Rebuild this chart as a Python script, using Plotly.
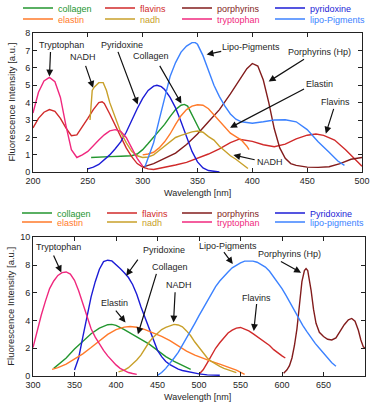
import plotly.graph_objects as go

# ---------------- data: top panel (excitation) ----------------
ex_collagen_wl = [253, 260, 270, 280, 290, 295, 300, 305, 310, 315, 320, 325, 330, 335, 338, 341, 345, 350, 353]
ex_collagen = [0.85, 0.88, 0.9, 0.92, 0.95, 1.05, 1.3, 1.65, 2.0, 2.35, 2.75, 3.2, 3.6, 3.85, 3.9, 3.8, 3.3, 2.6, 2.3]

ex_flavins_wl = [200, 205, 210, 215, 220, 225, 230, 235, 240, 245, 250, 255, 260, 263, 265, 270, 275, 280, 285, 290,
                 295, 300, 305, 310, 320, 330, 340, 350, 360, 370, 380, 388, 395, 400, 410, 420, 430, 440, 450, 458,
                 465, 475, 485, 495, 500]
ex_flavins = [2.55, 3.1, 3.45, 3.6, 3.5, 3.1, 2.55, 2.1, 2.15, 2.6, 3.1, 3.6, 4.0, 4.05, 3.95, 3.35, 2.7, 2.05, 1.4, 0.9,
              0.5, 0.3, 0.2, 0.16, 0.27, 0.42, 0.57, 0.8, 1.05, 1.35, 1.7, 1.9, 1.85, 1.78, 1.58, 1.47, 1.62, 1.92, 2.13, 2.2,
              2.12, 1.85, 1.3, 0.65, 0.35]

ex_porph_wl = [300, 305, 310, 320, 330, 340, 350, 360, 370, 380, 390, 395, 400, 405, 410, 415, 420, 425, 430, 435,
               440, 450, 460, 470, 480, 490, 500]
ex_porph = [0.3, 0.4, 0.5, 0.8, 1.1, 1.6, 2.2, 2.9, 3.6, 4.5, 5.5, 5.95, 6.25, 6.1, 5.3, 4.0, 2.5, 1.4, 0.8, 0.5,
            0.4, 0.3, 0.28, 0.32, 0.5, 0.75, 0.85]

ex_pyrid_wl = [250, 255, 260, 265, 270, 275, 280, 285, 290, 295, 300, 305, 310, 313, 317, 320, 325, 330, 335, 340,
               345, 350, 355, 360, 365, 370]
ex_pyrid = [0.2, 0.3, 0.45, 0.7, 1.0, 1.35, 1.75, 2.3, 3.0, 3.65, 4.25, 4.7, 4.95, 5.0, 4.92, 4.75, 4.3, 3.7, 2.9, 2.0,
            1.2, 0.6, 0.25, 0.1, 0.04, 0.02]

ex_elastin_wl = [300, 305, 310, 315, 320, 325, 330, 335, 340, 345, 350, 355, 360, 365, 370, 375, 380, 385, 390, 395, 397]
ex_elastin = [1.0, 1.05, 1.15, 1.4, 1.75, 2.2, 2.75, 3.25, 3.6, 3.8, 3.88, 3.85, 3.65, 3.3, 2.9, 2.55, 2.25, 2.05, 1.85, 1.5, 1.3]

ex_nadh_wl = [252, 254, 256, 260, 264, 267, 270, 275, 280, 285, 290, 295, 300, 305, 310, 315, 320, 325, 330, 335,
              340, 345, 350, 355, 360, 365, 370, 375, 380, 385, 390, 396]
ex_nadh = [3.0, 4.7, 4.9, 5.15, 5.15, 4.7, 4.0, 3.1, 2.3, 1.7, 1.2, 0.95, 0.85, 0.88, 1.0, 1.25, 1.5, 1.8, 2.0, 2.12,
           2.22, 2.32, 2.37, 2.3, 2.05, 1.85, 1.5, 1.2, 0.95, 0.75, 0.5, 0.22]

ex_trp_wl = [200, 205, 210, 215, 220, 225, 230, 235, 240, 245, 250, 255, 260, 265, 270, 275, 280, 285, 290, 295, 300]
ex_trp = [3.4, 4.6, 5.25, 5.45, 5.2, 4.3, 2.7, 1.3, 0.85, 1.0, 1.2, 1.55, 1.85, 2.15, 2.38, 2.45, 2.35, 2.0, 1.4, 0.8, 0.35]

ex_lipo_wl = [302, 305, 310, 315, 320, 325, 330, 335, 340, 345, 348, 350, 355, 360, 365, 370, 375, 380, 385, 390,
              400, 410, 420, 430, 440, 450, 460, 470, 478, 484]
ex_lipo = [0.3, 0.8, 1.7, 3.0, 4.3, 5.5, 6.3, 6.9, 7.25, 7.45, 7.45, 7.35, 6.7, 5.8, 5.0, 4.35, 3.8, 3.35, 3.05, 2.9,
           2.82, 2.9, 3.0, 3.02, 2.9, 2.45, 1.75, 1.15, 0.65, 0.4]

# ---------------- data: bottom panel (emission) ----------------
em_collagen_wl = [325, 330, 340, 350, 360, 370, 380, 390, 395, 400, 410, 420, 430, 440, 450, 460, 470, 480, 490]
em_collagen = [0.55, 0.8, 1.3, 1.95, 2.5, 3.05, 3.45, 3.7, 3.72, 3.65, 3.35, 3.0, 2.65, 2.3, 1.85, 1.4, 1.05, 0.75, 0.47]

em_flavins_wl = [500, 505, 510, 515, 520, 525, 530, 535, 540, 545, 550, 555, 560, 565, 570, 575, 580, 585, 590, 595, 600, 604]
em_flavins = [0.12, 0.45, 0.95, 1.5, 2.0, 2.4, 2.75, 3.1, 3.3, 3.45, 3.5, 3.4, 3.25, 3.05, 2.85, 2.65, 2.45, 2.2, 1.9, 1.65, 1.45, 1.3]

em_porph_wl = [602, 606, 609, 612, 615, 618, 621, 624, 627, 629, 631, 633, 635, 638, 641, 645, 650, 655, 660, 665,
               670, 675, 680, 684, 688, 692, 695, 698, 700]
em_porph = [0.2, 0.45, 0.75, 1.3, 2.2, 3.4, 5.1, 6.8, 7.6, 7.75, 7.6, 7.0, 6.2, 4.8, 3.8, 3.15, 2.85, 2.65, 2.6, 2.75,
            3.2, 3.7, 4.05, 4.15, 3.95, 3.3, 2.6, 2.1, 2.0]

em_pyrid_wl = [350, 355, 360, 365, 370, 375, 380, 385, 390, 395, 400, 405, 410, 415, 420, 425, 430, 435, 440, 445,
               450, 455, 460, 465, 470, 475, 480, 490, 500, 510, 525]
em_pyrid = [0.43, 1.3, 2.8, 4.3, 5.7, 6.8, 7.7, 8.25, 8.35, 8.3, 8.05, 7.75, 7.45, 7.1, 6.6, 5.9, 5.0, 4.2, 3.3, 2.5,
            1.85, 1.4, 1.05, 0.82, 0.65, 0.5, 0.4, 0.27, 0.15, 0.08, 0.05]

em_elastin_wl = [323, 330, 340, 350, 360, 370, 380, 390, 400, 410, 417, 425, 435, 445, 455, 465, 475, 485, 495, 505,
                 515, 525, 535, 545, 555]
em_elastin = [0.48, 0.6, 0.85, 1.2, 1.6, 2.05, 2.55, 3.0, 3.35, 3.52, 3.57, 3.52, 3.35, 3.12, 2.85, 2.55, 2.15, 1.8, 1.5, 1.25,
              1.05, 0.85, 0.65, 0.42, 0.12]

em_nadh_wl = [403, 410, 415, 420, 425, 430, 435, 440, 445, 450, 455, 460, 465, 470, 475, 480, 485, 490, 495, 500,
              505, 510, 515, 520, 525, 530, 537, 545]
em_nadh = [0.3, 0.42, 0.6, 0.85, 1.15, 1.5, 1.95, 2.45, 2.8, 3.1, 3.35, 3.5, 3.62, 3.72, 3.68, 3.55, 3.25, 2.9, 2.45, 2.05,
           1.65, 1.3, 1.05, 0.85, 0.7, 0.55, 0.38, 0.24]

em_trp_wl = [300, 305, 310, 315, 320, 325, 330, 335, 340, 345, 350, 355, 360, 365, 370, 375, 380, 385, 390, 395,
             400, 405, 410, 415, 420, 425]
em_trp = [2.05, 3.3, 4.4, 5.4, 6.3, 6.85, 7.25, 7.45, 7.5, 7.35, 6.9, 6.15, 5.2, 4.25, 3.4, 2.8, 2.3, 1.85, 1.45, 1.1,
          0.8, 0.55, 0.38, 0.25, 0.18, 0.12]

em_lipo_wl = [450, 455, 460, 465, 470, 475, 480, 485, 490, 495, 500, 505, 510, 515, 520, 525, 530, 535, 540, 545,
              550, 555, 560, 565, 570, 575, 580, 585, 590, 595, 600, 605, 610, 615, 620, 625, 630, 635, 640, 645,
              650, 655, 660, 665]
em_lipo = [0.05, 0.25, 0.55, 0.9, 1.3, 1.7, 2.2, 2.7, 3.2, 3.8, 4.35, 4.9, 5.4, 6.0, 6.45, 6.85, 7.2, 7.5, 7.8, 8.0,
           8.15, 8.28, 8.3, 8.28, 8.2, 8.05, 7.85, 7.55, 7.15, 6.75, 6.3, 5.8, 5.25, 4.7, 4.15, 3.65, 3.2, 2.75, 2.35, 2.0,
           1.65, 1.3, 0.95, 0.7]

# legend names / colours (order = legend columns, row 1 then row 2)
top_names = ["collagen", "flavins", "porphyrins", "pyridoxine", "elastin", "nadh", "tryptophan", "lipo-Pigments"]
bot_names = ["collagen", "flavins", "porphyrins", "Pyridoxine", "elastin", "nadh", "tryptophan", "lipo-pigments"]
colors = ["#23962f", "#d02a2a", "#821c1c", "#1c1cd6", "#ff7a2a", "#c8a02a", "#f0287e", "#3c82ff"]

top_series = [(ex_collagen_wl, ex_collagen), (ex_flavins_wl, ex_flavins), (ex_porph_wl, ex_porph),
              (ex_pyrid_wl, ex_pyrid), (ex_elastin_wl, ex_elastin), (ex_nadh_wl, ex_nadh),
              (ex_trp_wl, ex_trp), (ex_lipo_wl, ex_lipo)]
bot_series = [(em_collagen_wl, em_collagen), (em_flavins_wl, em_flavins), (em_porph_wl, em_porph),
              (em_pyrid_wl, em_pyrid), (em_elastin_wl, em_elastin), (em_nadh_wl, em_nadh),
              (em_trp_wl, em_trp), (em_lipo_wl, em_lipo)]

# labels with arrows: (text, text_x, text_y, tail_x, tail_y, head_x, head_y)
top_labels = [
    ("Tryptophan", 226, 7.3, 216, 7.0, 215, 5.5),
    ("NADH", 246, 6.6, 247.5, 6.2, 254.8, 4.85),
    ("Pyridoxine", 281, 7.3, 277, 7.0, 295.5, 3.9),
    ("Collagen", 308, 6.7, 314.8, 6.2, 335.3, 3.95),
    ("Lipo-Pigments", 399, 7.18, 373, 6.96, 358.3, 6.77),
    ("Porphyrins (Hp)", 461, 6.92, 448.5, 6.54, 414.9, 5.21),
    ("Elastin", 461.4, 5.06, 448.5, 4.83, 379.7, 2.56),
    ("Flavins", 476, 4.06, 474.6, 3.73, 467, 2.22),
    ("NADH", 416.4, 0.6, 403.5, 0.7, 382.7, 0.99),
]
bot_labels = [
    ("Tryptophan", 331.3, 9.33, 324, 8.8, 334.1, 7.47),
    ("Pyridoxine", 457.3, 9.08, 427.6, 8.5, 412.3, 7.23),
    ("Collagen", 465.3, 7.88, 449.2, 7.47, 426.4, 3.01),
    ("NADH", 475.3, 6.58, 471.3, 6.14, 469.3, 3.86),
    ("Elastin", 398.3, 5.23, 398.3, 4.82, 411.5, 3.86),
    ("Lipo-Pigments", 535.5, 9.4, 528.7, 9.04, 540.7, 8.07),
    ("Porphyrins (Hp)", 608.9, 8.8, 596.9, 8.31, 623, 7.45),
    ("Flavins", 569.2, 5.66, 569.6, 5.3, 566, 3.25),
]

x_title = "Wavelength [nm]"
y_title = "Fluorescence Intensity [a.u.]"

FONT = "Liberation Sans, Arial, sans-serif"
TXT = "#262626"
W, H = 371, 403
ML, MR, MT, MB = 33, 6, 33, 27
PW, PH = W - ML - MR, H - MT - MB


def px_x(px):
    return (px - ML) / PW


def px_y(py):
    return (H - MB - py) / PH


fig = go.Figure()

legend_layout = {}
# legend column x origins (px) and row y centres (px), in container coordinates
top_cols = [18, 100, 177, 270]
bot_cols = [17, 102, 177, 270]
top_rows = [8, 19]
bot_rows = [213, 222]


def legend_spec(xpx, ypx, color):
    return dict(x=xpx / W, y=1 - ypx / H, xref="container", yref="container", xanchor="left", yanchor="middle",
                bgcolor="rgba(0,0,0,0)", borderwidth=0, font=dict(family=FONT, size=9, color=color))


for i, ((wl, val), name) in enumerate(zip(top_series, top_names)):
    lg = "legend" if i == 0 else f"legend{i + 1}"
    fig.add_trace(go.Scatter(x=wl, y=val, mode="lines", name=name, legend=lg, showlegend=True,
                             line=dict(color=colors[i], width=1.4), xaxis="x", yaxis="y"))
    legend_layout[lg] = legend_spec(top_cols[i % 4], top_rows[i // 4], colors[i])

for i, ((wl, val), name) in enumerate(zip(bot_series, bot_names)):
    lg = f"legend{i + 9}"
    fig.add_trace(go.Scatter(x=wl, y=val, mode="lines", name=name, legend=lg, showlegend=True,
                             line=dict(color=colors[i], width=1.4), xaxis="x2", yaxis="y2"))
    legend_layout[lg] = legend_spec(bot_cols[i % 4], bot_rows[i // 4], colors[i])

annotations = []
for labels, xr, yr in ((top_labels, "x", "y"), (bot_labels, "x2", "y2")):
    for text, tx, ty, ax, ay, hx, hy in labels:
        annotations.append(dict(text=text, x=tx, y=ty, xref=xr, yref=yr, showarrow=False,
                                font=dict(family=FONT, size=9, color=TXT)))
        annotations.append(dict(text="", x=hx, y=hy, ax=ax, ay=ay, xref=xr, yref=yr, axref=xr, ayref=yr,
                                showarrow=True, arrowhead=2, arrowsize=1.15, arrowwidth=1.2, arrowcolor="#111"))

# axis titles
for ypx in (193, 397):
    annotations.append(dict(text=x_title, x=px_x(197), y=px_y(ypx), xref="paper", yref="paper",
                            xanchor="center", yanchor="middle", showarrow=False,
                            font=dict(family=FONT, size=9, color=TXT)))
for ypx in (102.5, 306.7):
    annotations.append(dict(text=y_title, x=px_x(11), y=px_y(ypx), xref="paper", yref="paper", textangle=-90,
                            xanchor="center", yanchor="middle", showarrow=False,
                            font=dict(family=FONT, size=9.5, color=TXT)))

axis_common = dict(showline=True, linecolor="#222", linewidth=1, mirror="ticks", ticks="inside", ticklen=4,
                   tickcolor="#222", showgrid=False, zeroline=False,
                   tickfont=dict(family=FONT, size=9, color=TXT))

top_dom = [px_y(172.3), 1.0]
bot_dom = [0.0, px_y(237.3)]

fig.update_layout(
    width=W, height=H,
    margin=dict(l=ML, r=MR, t=MT, b=MB, autoexpand=False),
    paper_bgcolor="white", plot_bgcolor="white",
    showlegend=True,
    font=dict(family=FONT, size=9, color=TXT),
    annotations=annotations,
    xaxis=dict(axis_common, domain=[0, px_x(362)], range=[200, 500], dtick=50, anchor="y"),
    yaxis=dict(axis_common, domain=top_dom, range=[0, 8], dtick=1, anchor="x"),
    xaxis2=dict(axis_common, domain=[0, 1], range=[300, 700], dtick=50, anchor="y2"),
    yaxis2=dict(axis_common, domain=bot_dom, range=[0, 10], dtick=2, anchor="x2"),
    **legend_layout,
)

fig.write_html("out.html", config={"displayModeBar": False},
               post_script="document.body.style.margin='0';document.body.style.padding='0';")
